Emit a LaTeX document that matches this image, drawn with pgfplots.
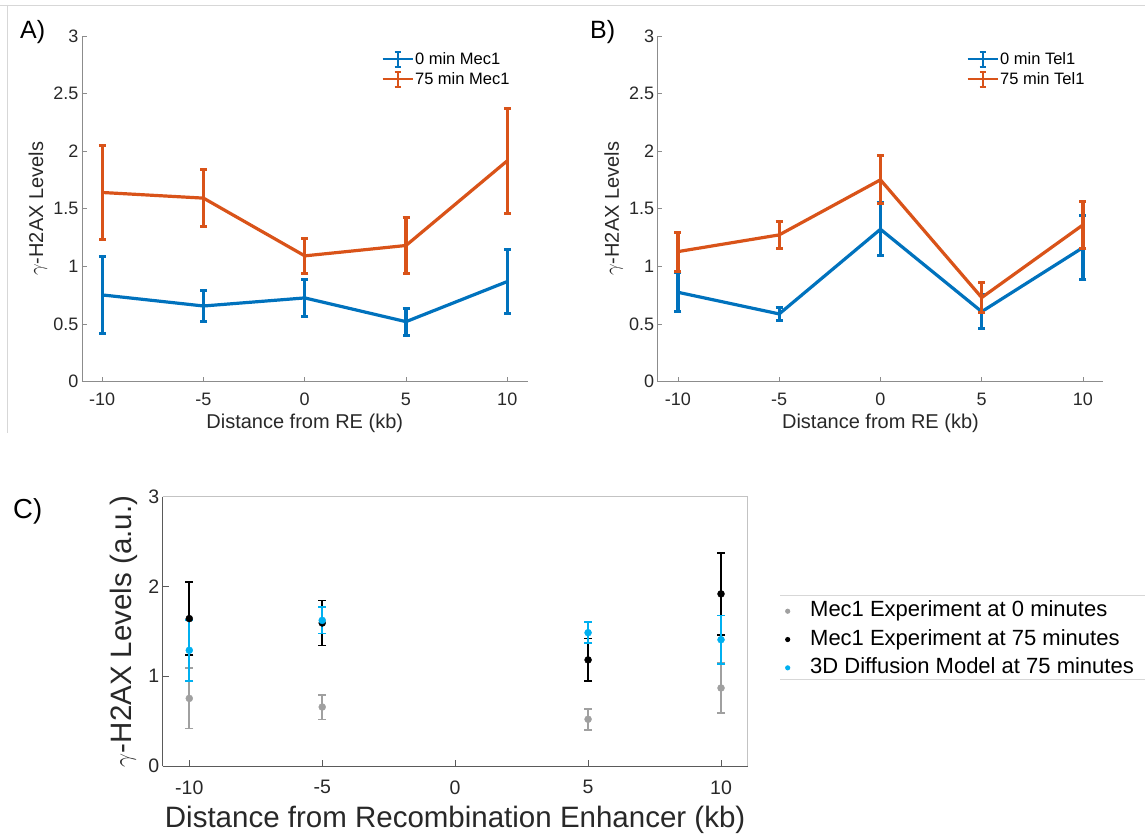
\documentclass[border=0pt]{standalone}
\usepackage{fontspec}
\setmainfont{Liberation Sans}
\usepackage{pgfplots}
\usepackage{pgfplotstable}
\pgfplotsset{compat=1.18}
\definecolor{mblue}{RGB}{0,114,189}
\definecolor{morange}{RGB}{217,83,25}
\definecolor{mcyan}{RGB}{0,176,240}
\definecolor{mgray}{RGB}{160,160,160}
\definecolor{axgray}{RGB}{140,140,140}
\definecolor{axdark}{RGB}{90,90,90}
\definecolor{boxgray}{RGB}{195,195,195}
\definecolor{txgray}{RGB}{40,40,40}
\definecolor{frgray}{RGB}{215,215,215}

% Mec1 0 min
\pgfplotstableread{
x y e
-10 0.753 0.336
-5 0.657 0.138
0 0.727 0.162
5 0.521 0.116
10 0.869 0.275
}\mecA
% Mec1 75 min
\pgfplotstableread{
x y e
-10 1.642 0.404
-5 1.593 0.250
0 1.092 0.155
5 1.182 0.239
10 1.917 0.456
}\mecB
% Tel1 0 min
\pgfplotstableread{
x y e
-10 0.776 0.168
-5 0.588 0.058
0 1.323 0.228
5 0.608 0.145
10 1.164 0.275
}\telA
% Tel1 75 min
\pgfplotstableread{
x y e
-10 1.129 0.169
-5 1.274 0.116
0 1.752 0.207
5 0.730 0.133
10 1.361 0.203
}\telB
% Panel C series
\pgfplotstableread{
x y e
-10 0.753 0.336
-5 0.657 0.138
5 0.521 0.116
10 0.869 0.275
}\cgray
\pgfplotstableread{
x y e
-10 1.642 0.404
-5 1.593 0.250
5 1.182 0.239
10 1.917 0.456
}\cblack
\pgfplotstableread{
x y e
-10 1.289 0.341
-5 1.622 0.145
5 1.485 0.117
10 1.407 0.269
}\ccyan

\pgfplotsset{
 base/.style={scale only axis, xmin=-11, xmax=11, ymin=0, ymax=3,
   axis x line*=bottom, axis y line*=left, tick align=inside,
   xtick={-10,-5,0,5,10}, xticklabels={-10,-5,0,5,10},
   /pgf/number format/assume math mode=true,
   tick label style={text=txgray}, label style={text=txgray},
   clip=false, legend cell align=left},
 abstyle/.style={base, width=445.5pt, height=345.7pt,
   axis line style={draw=axgray, line width=0.8pt},
   major tick style={draw=axgray, line width=0.8pt},
   major tick length=4.5pt,
   ytick={0,0.5,1,1.5,2,2.5,3}, yticklabels={0,0.5,1,1.5,2,2.5,3},
   tick label style={font=\fontsize{18}{20}\selectfont},
   xticklabel style={yshift=-8pt},
   label style={font=\fontsize{20}{24}\selectfont},
   xlabel={Distance from RE (kb)}, ylabel={$\gamma$-H2AX Levels},
   xlabel style={at={(axis description cs:0.5,-0.1195)}, anchor=center},
   ylabel style={at={(axis description cs:-0.0988,0.5)}, anchor=center},
   legend image code/.code={
     \draw[##1,line width=2pt] (0pt,0pt)--(30pt,0pt);
     \draw[##1,line width=2pt] (15pt,-7.5pt)--(15pt,7.5pt);
     \draw[##1,line width=1.6pt] (12pt,-7.5pt)--(18pt,-7.5pt) (12pt,7.5pt)--(18pt,7.5pt);
   },
   error bars/y dir=both, error bars/y explicit,
   error bars/error bar style={line width=3.2pt},
   error bars/error mark options={rotate=90, line width=3pt, mark size=3.5pt},
 },
 ser/.style={line width=3.2pt, line join=round, mark=none},
 cser/.style={only marks, mark=*, mark size=3.5pt,
   legend image code/.code={\path[draw=none,fill=none] (0pt,0pt) -- (29pt,0pt); \fill[##1,draw=none] (8pt,0pt) circle (2.6pt);}},
}

\begin{document}
\begin{tikzpicture}[x=1pt,y=1pt]
\path[use as bounding box] (0pt,0pt) rectangle (1145pt,836pt);
\draw[frgray, line width=0.8pt] (0pt,831pt) -- (1145pt,831pt);
\draw[frgray, line width=0.8pt] (7pt,831pt) -- (7pt,403pt);

% Panel A
\begin{axis}[abstyle, at={(82pt,454.3pt)}, anchor=south west,
  legend style={at={(axis description cs:0.672,0.958)}, anchor=north west,
    draw=none, fill=none, font=\fontsize{16.5}{18}\selectfont,
    inner sep=0pt, nodes={inner sep=1.5pt}, row sep=3pt}]
\addplot[ser, color=mblue] table[x=x,y=y,y error=e]{\mecA};
\addlegendentry{0 min Mec1}
\addplot[ser, color=morange] table[x=x,y=y,y error=e]{\mecB};
\addlegendentry{75 min Mec1}
\end{axis}

% Panel B
\begin{axis}[abstyle, at={(657.7pt,454.3pt)}, anchor=south west,
  legend style={at={(axis description cs:0.693,0.958)}, anchor=north west,
    draw=none, fill=none, font=\fontsize{16.5}{18}\selectfont,
    inner sep=0pt, nodes={inner sep=1.5pt}, row sep=3pt}]
\addplot[ser, color=mblue] table[x=x,y=y,y error=e]{\telA};
\addlegendentry{0 min Tel1}
\addplot[ser, color=morange] table[x=x,y=y,y error=e]{\telB};
\addlegendentry{75 min Tel1}
\end{axis}

% Panel C
\begin{axis}[base, at={(162.7pt,70pt)}, anchor=south west,
  width=584.9pt, height=269.3pt,
  axis line style={draw=axdark, line width=0.8pt},
  major tick style={draw=axdark, line width=0.8pt},
  major tick length=5.8pt,
  ytick={0,1,2,3}, yticklabels={0,1,2,3},
  tick label style={font=\fontsize{19.5}{21}\selectfont},
  xticklabel style={yshift=-11pt},
  label style={font=\fontsize{29.5}{33}\selectfont},
  xlabel={Distance from Recombination Enhancer (kb)},
  ylabel={$\gamma$-H2AX Levels (a.u.)},
  xlabel style={at={(axis description cs:0.5,-0.2005)}, anchor=center},
  ylabel style={at={(axis description cs:-0.067,0.5)}, anchor=center},
  legend style={at={(axis description cs:1.0545,0.620)}, anchor=north west,
    draw=none, fill=none, font=\fontsize{22}{24}\selectfont,
    inner sep=0pt, nodes={inner sep=1.5pt, text height=16pt, text depth=5pt}, row sep=4.3pt},
  error bars/y dir=both, error bars/y explicit,
  error bars/error bar style={line width=1.8pt},
  error bars/error mark options={rotate=90, line width=1.8pt, mark size=4pt},
]
\addplot[cser, color=mgray] table[x=x,y=y,y error=e]{\cgray};
\addlegendentry{Mec1 Experiment at 0 minutes}
\addplot[cser, color=black] table[x=x,y=y,y error=e]{\cblack};
\addlegendentry{Mec1 Experiment at 75 minutes}
\addplot[cser, color=mcyan] table[x=x,y=y,y error=e]{\ccyan};
\addlegendentry{3D Diffusion Model at 75 minutes}
\draw[boxgray, line width=0.8pt] (rel axis cs:0,1) -- (rel axis cs:1,1) -- (rel axis cs:1,0);
\end{axis}

\draw[frgray, line width=0.8pt] (780pt,241pt) -- (1150pt,241pt);
\draw[frgray, line width=0.8pt] (780pt,156.7pt) -- (1150pt,156.7pt);

\node[anchor=base west, font=\fontsize{25}{30}\selectfont, inner sep=0pt] at (20pt,797.5pt) {A)};
\node[anchor=base west, font=\fontsize{25}{30}\selectfont, inner sep=0pt] at (590pt,797.5pt) {B)};
\node[anchor=base west, font=\fontsize{27.5}{32}\selectfont, inner sep=0pt] at (13pt,318pt) {C)};
\end{tikzpicture}
\end{document}
